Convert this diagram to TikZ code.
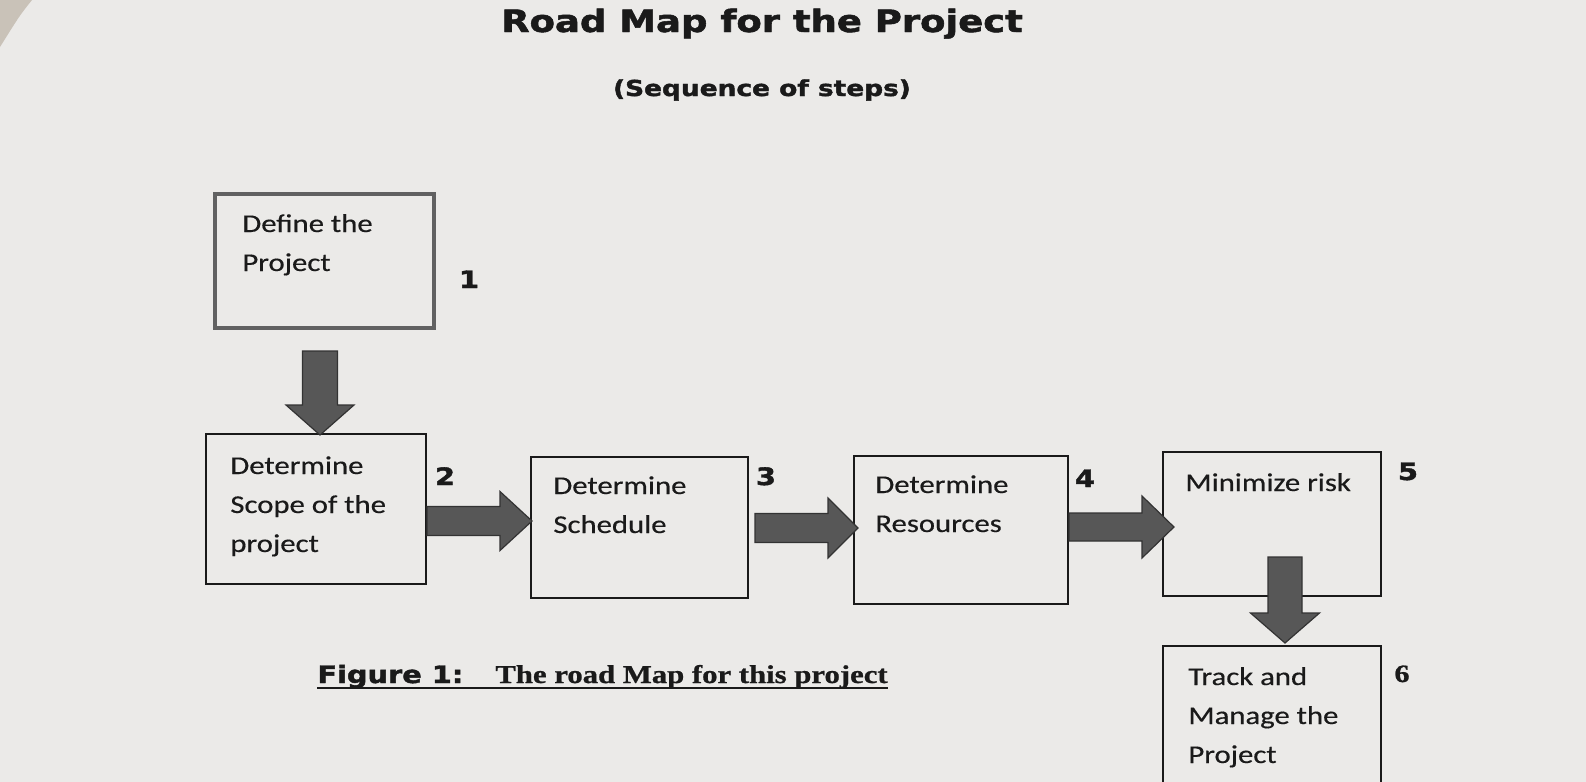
\documentclass[tikz,border=0pt]{standalone}
\usepackage{fontspec}
\setmainfont{Carlito}[FakeBold=0.4]
\newfontfamily\hdfont{DejaVu Sans}[BoldFeatures={FakeBold=1.6}]
\newfontfamily\tmfont{Liberation Serif}[BoldFeatures={FakeBold=0.8}]
\usetikzlibrary{calc}
\definecolor{paper}{HTML}{EBEAE8}
\definecolor{shadowc}{HTML}{C9C2B8}
\definecolor{ink}{HTML}{1A1A1A}
\definecolor{afill}{HTML}{575757}
\newcommand\sx[1]{\scalebox{1.2}[1]{#1}}
\newcommand\lines[1]{\begin{tabular}[t]{@{}l@{}}#1\end{tabular}}
% horizontal block arrow: tail, tip, shaft half width, head half width, head length
\newcommand\harrow[5]{\draw[barrow] ($(#1)+(0,-#3)$) -- ($(#2)+(-#5,-#3)$) -- ($(#2)+(-#5,-#4)$) -- (#2) -- ($(#2)+(-#5,#4)$) -- ($(#2)+(-#5,#3)$) -- ($(#1)+(0,#3)$) -- cycle;}
% vertical (downward) block arrow
\newcommand\varrow[5]{\draw[barrow] ($(#1)+(-#3,0)$) -- ($(#2)+(-#3,-#5)$) -- ($(#2)+(-#4,-#5)$) -- (#2) -- ($(#2)+(#4,-#5)$) -- ($(#2)+(#3,-#5)$) -- ($(#1)+(#3,0)$) -- cycle;}
\begin{document}
\begin{tikzpicture}[x=0.5pt,y=-0.5pt,
  box/.style={draw=ink, line width=1pt, anchor=north west, inner sep=0pt},
  txt/.style={anchor=base west, inner sep=0pt, text=ink, font=\fontsize{12.8}{19.5}\selectfont},
  num/.style={anchor=base, inner sep=0pt, text=ink, font=\hdfont\bfseries\fontsize{12}{14}\selectfont},
  barrow/.style={fill=afill, draw=black!80, line width=0.6pt, line join=miter}]
\useasboundingbox (0,0) rectangle (1586,782);
\clip (0,0) rectangle (1586,782);
\fill[paper] (0,0) rectangle (1586,782);
\fill[shadowc] (0,0) -- (32,0) .. controls (20,15) .. (0,47) -- cycle;

% title
\node[anchor=base, inner sep=0pt, text=ink, font=\hdfont\bfseries\fontsize{15.4}{18}\selectfont] (title) at (762,32) {\sx{Road Map for the Project}};
\node[anchor=base, inner sep=0pt, text=ink, font=\hdfont\bfseries\fontsize{11}{13}\selectfont] (sub) at (762,96) {\sx{(Sequence of steps)}};

% boxes
\node[box, minimum width=109.5pt, minimum height=67pt, draw=black!62, line width=2pt] (b1) at (213,192) {};
\node[box, minimum width=110pt, minimum height=75pt] (b2) at (205,433) {};
\node[box, minimum width=108.5pt, minimum height=70.5pt] (b3) at (530,456) {};
\node[box, minimum width=107pt, minimum height=74pt] (b4) at (853,455) {};
\node[box, minimum width=109pt, minimum height=72pt] (b5) at (1162,451) {};
\node[box, minimum width=109pt, minimum height=80pt] (b6) at (1162,645) {};

% box texts
\node[txt] (l1) at ($(b1.north west)+(29,40)$) {\sx{\lines{Define the\\Project}}};
\node[txt] (l2) at ($(b2.north west)+(25,41)$) {\sx{\lines{Determine\\Scope of the\\project}}};
\node[txt] (l3) at ($(b3.north west)+(23,38)$) {\sx{\lines{Determine\\Schedule}}};
\node[txt] (l4) at ($(b4.north west)+(22,38)$) {\sx{\lines{Determine\\Resources}}};
\node[txt] (l5) at ($(b5.north west)+(23,40)$) {\sx{Minimize risk}};
\node[txt] (l6) at ($(b6.north west)+(26,40)$) {\sx{\lines{Track and\\Manage the\\Project}}};

% step numbers
\node[num] (n1) at ($(b1.north east)+(33,96)$) {\sx{1}};
\node[num] (n2) at ($(b2.north east)+(18,52)$) {\sx{2}};
\node[num] (n3) at ($(b3.north east)+(17,29)$) {\sx{3}};
\node[num] (n4) at ($(b4.north east)+(16,32)$) {\sx{4}};
\node[num] (n5) at ($(b5.north east)+(26,29)$) {\sx{5}};
\node[num, font=\tmfont\bfseries\fontsize{12.5}{14}\selectfont] (n6) at ($(b6.north east)+(20,37)$) {\sx{6}};

% arrow end points
\coordinate (t12) at ($(b1.south west)+(107,21)$);
\coordinate (h12) at ($(b2.north -| t12)+(0,2)$);
\coordinate (t23) at ($(b2.north east)+(0,88)$);
\coordinate (h23) at ($(b3.west |- t23)+(2,0)$);
\coordinate (t34) at ($(b3.north east)+(6,72)$);
\coordinate (h34) at ($(b4.west |- t34)+(5,0)$);
\coordinate (t45) at ($(b4.north east)+(0,72)$);
\coordinate (h45) at ($(b5.west |- t45)+(12,0)$);
\coordinate (t56) at ($(b5.south west)+(123,-40)$);
\coordinate (h56) at ($(b6.north -| t56)+(0,-2)$);

% block arrows
\varrow{t12}{h12}{17.5}{34}{30}
\harrow{t23}{h23}{14.5}{29.5}{32}
\harrow{t34}{h34}{14.5}{30}{30}
\harrow{t45}{h45}{14}{31}{32}
\varrow{t56}{h56}{17}{34.5}{30}

% caption
\node[anchor=base west, inner sep=0pt, text=ink, font=\hdfont\bfseries\fontsize{12}{14}\selectfont] (cap1) at (317,683) {\sx{Figure 1:}};
\node[anchor=base west, inner sep=0pt, text=ink, font=\tmfont\bfseries\fontsize{12.8}{14}\selectfont] (cap2) at (495,683) {\sx{The road Map for this project}};
\draw[ink, line width=1.1pt] ($(cap1.base west)+(0,5)$) -- ($(cap2.base east)+(0,5)$);
\end{tikzpicture}
\end{document}
